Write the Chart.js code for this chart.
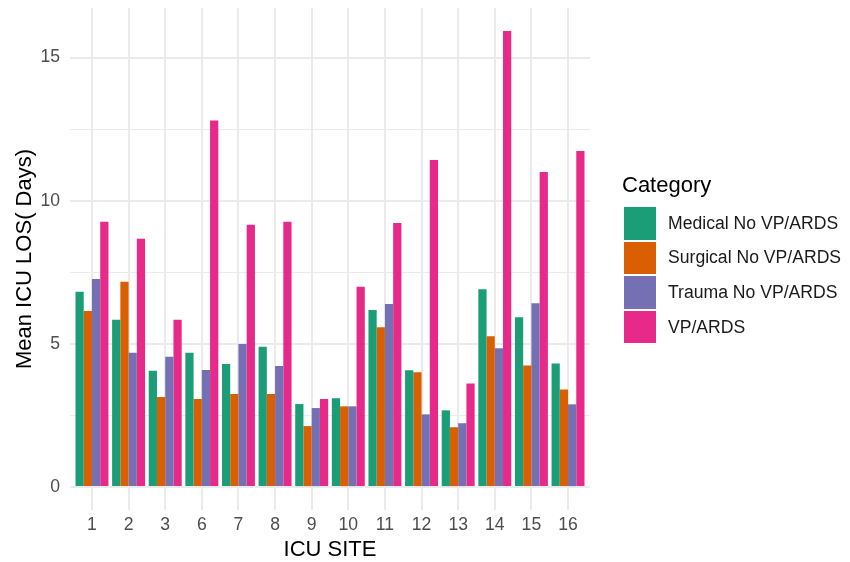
<!DOCTYPE html>
<html>
<head>
<meta charset="utf-8">
<script src="https://cdn.jsdelivr.net/npm/chart.js@4/dist/chart.umd.min.js"></script>
<style>
    body { margin: 0; background: #fff; font-family: "Liberation Sans", Arial, sans-serif; }
    #wrap { position: relative; width: 850px; height: 562px; }
    #legend { position: absolute; left: 622px; top: 172px; }
    #legend .title { font-size: 22px; line-height: 26px; color: #000; margin-bottom: 9px; }
    #legend .item { display: flex; align-items: center; height: 32.6px; margin-bottom: 2px; margin-left: 2px; }
    #legend .box { width: 32px; height: 32.6px; margin-right: 12px; }
    #legend .label { font-size: 17.6px; color: #1a1a1a; }
</style>
</head>
<body>
<div id="wrap">
    <canvas id="chart" width="850" height="562"></canvas>
    <div id="legend"></div>
</div>
<script>
// ICU sites on the x axis
const sites = ['1', '2', '3', '6', '7', '8', '9', '10', '11', '12', '13', '14', '15', '16'];

// mean ICU length of stay (days)
const medical  = [6.82, 5.84, 4.06, 4.69, 4.30, 4.90, 2.90, 3.10, 6.18, 4.08, 2.68, 6.91, 5.93, 4.32];
const surgical = [6.15, 7.17, 3.15, 3.08, 3.25, 3.25, 2.13, 2.82, 5.58, 4.01, 2.09, 5.27, 4.25, 3.41];
const trauma   = [7.27, 4.69, 4.55, 4.09, 5.00, 4.23, 2.76, 2.82, 6.39, 2.54, 2.23, 4.85, 6.42, 2.89];
const vpArds   = [9.27, 8.67, 5.84, 12.80, 9.16, 9.27, 3.08, 7.00, 9.22, 11.42, 3.62, 15.93, 11.00, 11.74];

const categoryNames = ['Medical No VP/ARDS', 'Surgical No VP/ARDS', 'Trauma No VP/ARDS', 'VP/ARDS'];
const colors = ['#1B9E77', '#D95F02', '#7570B3', '#E7298A'];
const yTicks = [0, 2.5, 5, 7.5, 10, 12.5, 15];

const series = [medical, surgical, trauma, vpArds];
const font = 'Liberation Sans';

const datasets = series.map((values, k) => ({
    label: categoryNames[k],
    data: values.map((v, i) => ({ x: i, y: v })),
    backgroundColor: colors[k],
    borderWidth: 0,
    categoryPercentage: 0.9,
    barPercentage: 1.0
}));

new Chart(document.getElementById('chart').getContext('2d'), {
    type: 'bar',
    data: { datasets: datasets },
    options: {
        responsive: false,
        animation: false,
        layout: { padding: { left: 0, top: 8, right: 260, bottom: 0 } },
        plugins: {
            legend: { display: false },
            tooltip: { enabled: false }
        },
        scales: {
            x: {
                type: 'linear',
                offset: false,
                min: -0.6,
                max: 13.6,
                afterBuildTicks: scale => {
                    scale.ticks = sites.map((s, i) => ({ value: i }));
                },
                afterFit: scale => {
                    scale.height = 52;
                    scale.paddingLeft = 0;
                    scale.paddingRight = 0;
                },
                ticks: {
                    callback: value => sites[value],
                    color: '#4D4D4D',
                    font: { family: font, size: 17.6 },
                    padding: 5,
                    maxRotation: 0,
                    autoSkip: false
                },
                grid: { color: '#EBEBEB', lineWidth: 2, drawTicks: false, offset: false },
                border: { display: false },
                title: {
                    display: true,
                    text: 'ICU SITE',
                    color: '#000',
                    font: { family: font, size: 22, lineHeight: 1.1 },
                    padding: { top: 0, bottom: 0 }
                }
            },
            y: {
                min: -0.8,
                max: 16.73,
                afterBuildTicks: scale => {
                    scale.ticks = yTicks.map(v => ({ value: v }));
                },
                afterFit: scale => {
                    scale.width = 70;
                    scale.paddingTop = 0;
                    scale.paddingBottom = 0;
                },
                ticks: {
                    callback: value => (value % 5 === 0 ? String(value) : ''),
                    color: '#4D4D4D',
                    font: { family: font, size: 17.6 },
                    padding: 10
                },
                grid: {
                    color: '#EBEBEB',
                    lineWidth: ctx => (ctx.tick && ctx.tick.value % 5 === 0 ? 2 : 1),
                    drawTicks: false
                },
                border: { display: false },
                title: {
                    display: true,
                    text: 'Mean ICU LOS( Days)',
                    color: '#000',
                    font: { family: font, size: 22, lineHeight: 1.2 },
                    padding: { top: 12, bottom: 0 }
                }
            }
        }
    }
});

// legend drawn beside the canvas
const legend = document.getElementById('legend');
legend.innerHTML = '<div class="title">Category</div>' + categoryNames.map((name, k) =>
    `<div class="item"><div class="box" style="background:${colors[k]}"></div><span class="label">${name}</span></div>`
).join('');
</script>
</body>
</html>
